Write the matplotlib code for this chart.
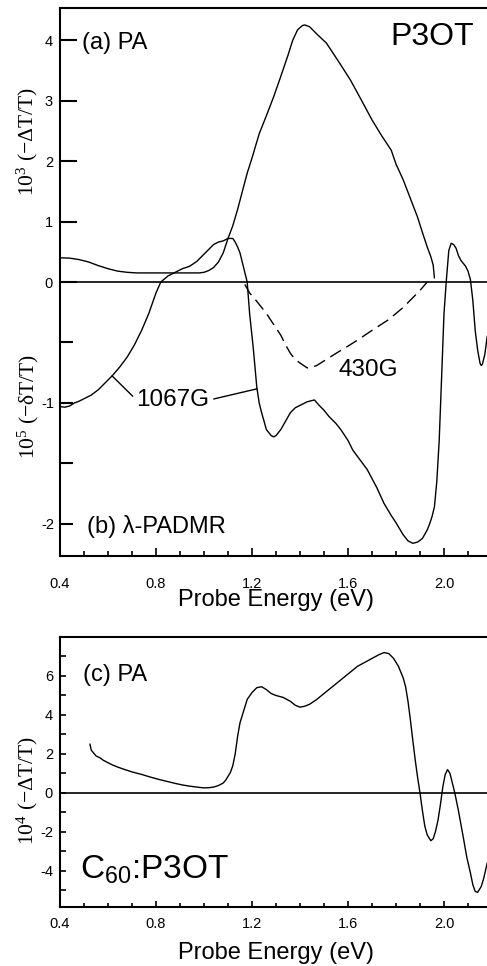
import matplotlib
matplotlib.use('Agg')
import matplotlib.pyplot as plt
import numpy as np
from matplotlib.ticker import MultipleLocator

plt.rcParams['font.family'] = ['Liberation Sans', 'DejaVu Sans']
plt.rcParams['axes.unicode_minus'] = False

# (a) PA of P3OT, in 10^3 (-dT/T)
pa_e = [0.40, 0.44, 0.48, 0.52, 0.56, 0.60, 0.64, 0.68, 0.72, 0.80, 0.90, 0.98,
        1.00, 1.02, 1.04, 1.06, 1.08, 1.10, 1.12, 1.14, 1.16, 1.18, 1.20, 1.23,
        1.26, 1.29, 1.32, 1.35, 1.37, 1.39, 1.41, 1.42, 1.44, 1.47, 1.51, 1.56,
        1.61, 1.65, 1.70, 1.74, 1.78, 1.80, 1.83, 1.86, 1.89, 1.91, 1.93, 1.945,
        1.955, 1.96]
pa_v = [0.40, 0.395, 0.37, 0.33, 0.27, 0.22, 0.18, 0.16, 0.15, 0.15, 0.15, 0.15,
        0.16, 0.19, 0.24, 0.33, 0.48, 0.72, 0.93, 1.20, 1.50, 1.80, 2.05, 2.45,
        2.75, 3.06, 3.40, 3.75, 4.00, 4.17, 4.24, 4.25, 4.22, 4.10, 3.95, 3.65,
        3.34, 3.05, 2.68, 2.42, 2.18, 1.95, 1.69, 1.38, 1.07, 0.82, 0.58, 0.42,
        0.28, 0.07]

# (b) lambda-PADMR at 1067G, in 10^5 (-dT/T)
g1067_e = [0.40, 0.42, 0.44, 0.46, 0.48, 0.50, 0.53, 0.56, 0.59, 0.62, 0.65, 0.68,
           0.71, 0.74, 0.77, 0.80, 0.82, 0.85, 0.88, 0.91, 0.94, 0.97, 1.00, 1.02,
           1.04, 1.06, 1.08, 1.10, 1.12, 1.13, 1.14, 1.15, 1.165, 1.18, 1.19, 1.205,
           1.22, 1.23, 1.24, 1.26, 1.28, 1.29, 1.30, 1.32, 1.34, 1.36, 1.38, 1.40,
           1.43, 1.46, 1.48, 1.50, 1.52, 1.55, 1.57, 1.60, 1.62, 1.65, 1.68, 1.72,
           1.75, 1.78, 1.80, 1.83, 1.85, 1.87, 1.89, 1.91, 1.93, 1.94, 1.95, 1.96,
           1.97, 1.98, 1.99, 2.00, 2.01, 2.02, 2.03, 2.04, 2.05, 2.06, 2.07, 2.09,
           2.10, 2.11, 2.12, 2.13, 2.14, 2.15, 2.155, 2.16, 2.17, 2.18]
g1067_v = [-1.03, -1.035, -1.025, -1.00, -0.985, -0.965, -0.935, -0.89, -0.83, -0.77, -0.70, -0.62,
           -0.52, -0.40, -0.26, -0.09, 0.00, 0.05, 0.08, 0.11, 0.13, 0.17, 0.23, 0.27,
           0.31, 0.33, 0.34, 0.36, 0.36, 0.33, 0.29, 0.24, 0.12, 0.00, -0.26, -0.54,
           -0.87, -1.00, -1.08, -1.22, -1.27, -1.28, -1.27, -1.22, -1.15, -1.08, -1.04, -1.02,
           -0.99, -0.975, -1.02, -1.06, -1.11, -1.17, -1.22, -1.31, -1.39, -1.47, -1.55, -1.70,
           -1.83, -1.93, -1.99, -2.09, -2.14, -2.16, -2.15, -2.12, -2.05, -2.00, -1.94, -1.86,
           -1.65, -1.31, -0.79, -0.26, 0.02, 0.26, 0.32, 0.31, 0.28, 0.22, 0.18, 0.13,
           0.09, 0.02, -0.15, -0.40, -0.56, -0.67, -0.69, -0.68, -0.60, -0.45]

# (b) lambda-PADMR at 430G
g430_e = [1.17, 1.19, 1.22, 1.26, 1.29, 1.32, 1.34, 1.36, 1.38, 1.40, 1.43, 1.45,
          1.47, 1.51, 1.55, 1.60, 1.64, 1.70, 1.77, 1.83, 1.88, 1.90, 1.93]
g430_v = [-0.02, -0.09, -0.16, -0.26, -0.35, -0.44, -0.52, -0.59, -0.64, -0.67, -0.71, -0.705,
          -0.69, -0.64, -0.59, -0.53, -0.48, -0.40, -0.31, -0.21, -0.11, -0.07, 0.00]

# (c) PA of C60:P3OT, in 10^4 (-dT/T)
c_e = [0.525, 0.53, 0.54, 0.55, 0.567, 0.58, 0.60, 0.62, 0.64, 0.67, 0.70, 0.74,
       0.775, 0.81, 0.85, 0.88, 0.91, 0.94, 0.97, 1.00, 1.02, 1.04, 1.06, 1.08,
       1.09, 1.10, 1.11, 1.12, 1.13, 1.14, 1.15, 1.165, 1.18, 1.20, 1.22, 1.24,
       1.26, 1.28, 1.30, 1.33, 1.36, 1.38, 1.40, 1.42, 1.44, 1.47, 1.50, 1.53,
       1.57, 1.61, 1.64, 1.67, 1.70, 1.73, 1.75, 1.77, 1.79, 1.81, 1.83, 1.84,
       1.85, 1.86, 1.87, 1.88, 1.89, 1.90, 1.91, 1.92, 1.93, 1.945, 1.955, 1.965,
       1.975, 1.985, 1.995, 2.005, 2.015, 2.025, 2.035, 2.045, 2.06, 2.08, 2.095, 2.11,
       2.12, 2.13, 2.14, 2.155, 2.165, 2.18]
c_v = [2.5, 2.2, 2.05, 1.9, 1.8, 1.68, 1.55, 1.43, 1.33, 1.2, 1.08, 0.95,
       0.82, 0.7, 0.58, 0.49, 0.41, 0.35, 0.3, 0.26, 0.27, 0.3, 0.38, 0.51,
       0.65, 0.85, 1.05, 1.4, 2.0, 2.9, 3.6, 4.2, 4.8, 5.15, 5.4, 5.45,
       5.3, 5.1, 5.0, 4.9, 4.7, 4.5, 4.4, 4.45, 4.55, 4.8, 5.1, 5.4,
       5.8, 6.2, 6.5, 6.7, 6.9, 7.1, 7.2, 7.15, 6.9, 6.5, 5.9, 5.45,
       4.7, 3.75, 2.7, 1.7, 0.8, 0.0, -0.9, -1.7, -2.15, -2.45, -2.35, -1.95,
       -1.4, -0.6, 0.3, 0.95, 1.2, 1.0, 0.5, 0.0, -0.9, -2.25, -3.3, -4.1,
       -4.7, -5.05, -5.1, -4.8, -4.4, -3.6]

xticks = [0.4, 0.8, 1.2, 1.6, 2.0]
xmax = 0.4 + 427 / 240

fig = plt.figure(figsize=(4.87, 9.66), dpi=100)

# ---- top panel: (a) PA and (b) PADMR share one frame
ax_a = fig.add_axes([60 / 487, 410 / 966, 427 / 487, 548 / 966])
ax_b = fig.add_axes([60 / 487, 410 / 966, 427 / 487, 548 / 966], sharex=ax_a)
ax_b.patch.set_visible(False)
for s in ax_b.spines.values():
    s.set_visible(False)

ax_a.plot(pa_e, pa_v, color='black', lw=1.0)
ax_a.axhline(0, color='black', lw=1.2)
ax_b.plot(g1067_e, g1067_v, color='black', lw=1.0)
ax_b.plot(g430_e, g430_v, color='black', lw=1.0, linestyle=(0, (9, 4.5)))

ax_a.set_xlim(0.4, xmax)
ax_a.set_ylim(-4.53, 4.53)
ax_b.set_ylim(-2.265, 2.265)

ax_a.spines['right'].set_visible(False)
for s in ['left', 'top', 'bottom']:
    ax_a.spines[s].set_linewidth(1.5)

ax_a.set_yticks([0, 1, 2, 3, 4])
ax_a.tick_params(axis='y', direction='in', length=12, width=1.5, labelsize=10.5, pad=5,
                 right=False)
ax_a.set_xticks(xticks)
ax_a.set_xticklabels(['%.1f' % v for v in xticks])
ax_a.xaxis.set_minor_locator(MultipleLocator(0.1))
ax_a.tick_params(axis='x', which='major', direction='in', length=6, width=1.2,
                 labelsize=10.5, pad=15, top=False)
ax_a.tick_params(axis='x', which='minor', direction='in', length=3.5, width=1.2, top=False)

ax_b.set_yticks([-2, -1])
ax_b.set_yticks([-1.5, -0.5], minor=True)
ax_b.tick_params(axis='y', which='both', direction='in', length=9.5, width=1.5,
                 labelsize=10.5, pad=4, right=False)
ax_b.tick_params(axis='x', which='both', bottom=False, labelbottom=False)

ax_a.set_xlabel('Probe Energy (eV)', fontsize=17)
ax_a.xaxis.set_label_coords(0.507, -0.061)

ax_a.text(0.492, 3.95, '(a) PA', fontsize=17, ha='left', va='center')
ax_a.text(1.775, 4.05, 'P3OT', fontsize=23, ha='left', va='center')
ax_b.text(0.5125, -2.025, '(b) \u03bb-PADMR', fontsize=17, ha='left', va='center')
ax_b.text(1.683, -0.727, '430G', fontsize=17.5, ha='center', va='center')

# 1067G label with leader lines to the curve
lab_x, lab_y = 0.871, -0.975
for e_pt, rel, col in [(0.617, (0, 0.5), 'black'), (1.221, (1, 0.5), 'none')]:
    ax_b.annotate('1067G', xy=(e_pt, np.interp(e_pt, g1067_e, g1067_v)),
                  xytext=(lab_x, lab_y), fontsize=17.5, color=col,
                  ha='center', va='center',
                  arrowprops=dict(arrowstyle='-', color='black', lw=1.0,
                                  relpos=rel, shrinkA=1, shrinkB=0))

fig.text(27 / 487, 1 - 142 / 966, '$\\mathregular{10^3}$ (\u2212\u0394T/T)',
         rotation=90, ha='center', va='center', fontsize=15.5, family='Liberation Serif')
fig.text(28 / 487, 1 - 407 / 966, '$\\mathregular{10^5}$ (\u2212\u03b4T/T)',
         rotation=90, ha='center', va='center', fontsize=15.5, family='Liberation Serif')

# ---- bottom panel: (c) C60:P3OT
ax_c = fig.add_axes([60 / 487, 59 / 966, 427 / 487, 270 / 966])
ax_c.plot(c_e, c_v, color='black', lw=1.0)
ax_c.axhline(0, color='black', lw=1.2)
ax_c.set_xlim(0.4, xmax)
ax_c.set_ylim(-5.85, 8.0)
ax_c.spines['right'].set_visible(False)
for s in ['left', 'top', 'bottom']:
    ax_c.spines[s].set_linewidth(1.5)

ax_c.set_yticks([-4, -2, 0, 2, 4, 6])
ax_c.yaxis.set_minor_locator(MultipleLocator(1))
ax_c.tick_params(axis='y', which='both', direction='in', length=4, width=1.2,
                 labelsize=10.5, pad=5, right=False)
ax_c.set_xticks(xticks)
ax_c.set_xticklabels(['%.1f' % v for v in xticks])
ax_c.xaxis.set_minor_locator(MultipleLocator(0.1))
ax_c.tick_params(axis='x', which='major', direction='in', length=4.5, width=1.2,
                 labelsize=10.5, pad=7, top=False)
ax_c.tick_params(axis='x', which='minor', direction='in', length=3, width=1.2, top=False)

ax_c.set_xlabel('Probe Energy (eV)', fontsize=17)
ax_c.xaxis.set_label_coords(0.507, -0.13)

ax_c.text(0.496, 6.05, '(c) PA', fontsize=17, ha='left', va='center')
ax_c.text(0.483, -4.41, '$\\mathregular{C_{60}}$:P3OT', fontsize=24, ha='left', va='baseline')

fig.text(27 / 487, 1 - 791 / 966, '$\\mathregular{10^4}$ (\u2212\u0394T/T)',
         rotation=90, ha='center', va='center', fontsize=15.5, family='Liberation Serif')

fig.savefig('out.png', dpi=100)
